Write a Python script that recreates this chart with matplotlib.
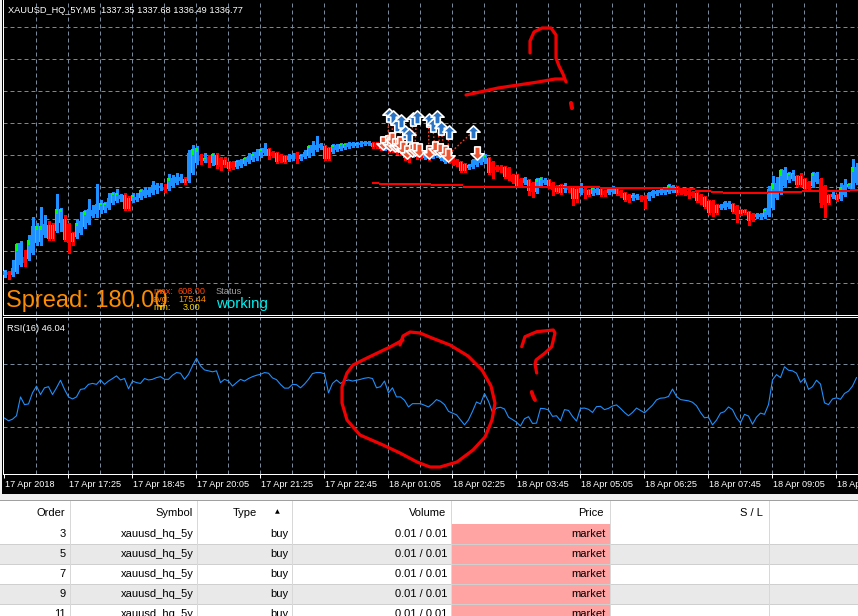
import numpy as np
import matplotlib
matplotlib.use("Agg")
import matplotlib.pyplot as plt
from matplotlib.path import Path
from matplotlib.lines import Line2D
from matplotlib.patches import Rectangle
import matplotlib.transforms as mtransforms

plt.rcParams['font.family'] = ['Liberation Sans', 'DejaVu Sans']

# ---------------- data (XAUUSD M5) ----------------
opens = [
    1332.5, 1332.8, 1332.5, 1332.8, 1333.5, 1334.3, 1334.1, 1334.7, 1335.7, 1335.8,
    1336.5, 1337.5, 1337.5, 1336.9, 1337.7, 1338.1, 1337.6, 1336.7, 1336.3, 1336.7,
    1337.3, 1337.7, 1338.4, 1338.6, 1339.0, 1339.0, 1339.2, 1339.7, 1339.9, 1340.1,
    1340.5, 1340.2, 1339.9, 1340.0, 1340.2, 1340.4, 1340.5, 1340.7, 1341.0, 1341.2,
    1341.3, 1341.1, 1341.4, 1341.7, 1341.9, 1342.1, 1341.9, 1342.7, 1343.7, 1344.4,
    1343.9, 1344.3, 1343.7, 1344.5, 1344.2, 1344.0, 1343.8, 1343.8, 1343.3, 1343.4,
    1343.6, 1343.8, 1344.0, 1344.2, 1344.4, 1344.7, 1345.1, 1344.8, 1344.7, 1344.5,
    1344.4, 1344.0, 1344.1, 1344.7, 1344.1, 1344.3, 1344.4, 1344.7, 1345.0, 1345.2,
    1345.4, 1345.2, 1344.8, 1345.0, 1345.1, 1345.2, 1345.3, 1345.4, 1345.4, 1345.5,
    1345.6, 1345.6, 1345.7, 1345.7, 1345.7, 1345.1, 1345.5, 1345.4, 1345.3, 1345.2,
    1344.8, 1344.8, 1344.4, 1344.7, 1344.8, 1344.2, 1344.5, 1344.3, 1344.4, 1344.1,
    1343.8, 1344.5, 1344.2, 1344.0, 1343.8, 1343.6, 1343.2, 1343.3, 1343.5, 1343.7,
    1343.8, 1344.2, 1343.8, 1343.3, 1343.3, 1343.3, 1343.2, 1342.5, 1342.5, 1342.1,
    1341.7, 1342.0, 1341.7, 1340.8, 1341.4, 1341.7, 1342.0, 1341.7, 1341.4, 1341.5,
    1341.1, 1341.3, 1341.2, 1341.1, 1340.7, 1341.1, 1341.0, 1340.6, 1340.7, 1341.1,
    1340.9, 1340.7, 1340.8, 1341.1, 1340.9, 1340.7, 1340.5, 1340.2, 1340.2, 1340.4,
    1340.4, 1340.1, 1340.4, 1340.6, 1340.7, 1340.7, 1340.8, 1340.9, 1341.3, 1341.1,
    1341.0, 1340.9, 1340.8, 1340.7, 1340.5, 1340.3, 1339.9, 1339.9, 1339.5, 1339.2,
    1339.2, 1339.3, 1339.6, 1339.4, 1339.0, 1339.0, 1338.8, 1338.6, 1338.3, 1338.3,
    1338.3, 1338.5, 1339.2, 1340.2, 1340.7, 1341.4, 1342.0, 1342.1, 1342.4, 1342.4,
    1342.1, 1341.8, 1341.4, 1341.8, 1342.1, 1341.4, 1340.5, 1340.3, 1340.5, 1340.1,
    1340.5, 1341.3, 1341.1, 1341.7]
highs = [
    1333.0, 1332.9, 1334.0, 1335.7, 1335.9, 1335.0, 1336.5, 1338.3, 1337.7, 1339.3,
    1338.5, 1337.9, 1337.7, 1340.6, 1339.2, 1338.5, 1337.7, 1336.8, 1338.1, 1338.8,
    1339.0, 1340.1, 1339.5, 1341.6, 1340.0, 1339.8, 1340.7, 1340.8, 1341.1, 1340.6,
    1340.7, 1340.4, 1340.7, 1340.7, 1341.1, 1341.3, 1341.3, 1341.9, 1341.7, 1341.7,
    1341.6, 1342.6, 1342.5, 1342.7, 1342.6, 1342.3, 1345.0, 1345.5, 1345.4, 1344.6,
    1344.7, 1344.5, 1344.7, 1344.7, 1344.3, 1344.3, 1343.9, 1343.9, 1344.0, 1344.1,
    1344.3, 1344.7, 1344.8, 1345.1, 1345.2, 1345.7, 1345.2, 1344.9, 1344.8, 1344.6,
    1344.5, 1344.6, 1344.7, 1344.8, 1344.6, 1345.0, 1345.5, 1345.9, 1346.4, 1345.7,
    1345.5, 1345.3, 1345.6, 1345.6, 1345.7, 1345.7, 1345.8, 1345.8, 1345.8, 1345.9,
    1345.9, 1345.9, 1345.8, 1345.8, 1345.8, 1345.7, 1345.6, 1345.5, 1345.4, 1345.3,
    1345.0, 1344.9, 1345.1, 1344.8, 1344.9, 1344.6, 1344.6, 1344.9, 1344.9, 1344.8,
    1344.8, 1344.6, 1344.3, 1344.1, 1343.9, 1343.7, 1343.6, 1344.1, 1344.4, 1344.6,
    1344.6, 1344.3, 1343.9, 1343.5, 1343.5, 1343.4, 1343.3, 1342.6, 1342.6, 1342.2,
    1342.3, 1342.1, 1341.8, 1342.2, 1342.3, 1342.2, 1342.1, 1341.8, 1341.5, 1341.6,
    1341.7, 1341.4, 1341.3, 1341.2, 1341.7, 1341.2, 1341.1, 1341.3, 1341.2, 1341.2,
    1341.0, 1341.2, 1341.4, 1341.2, 1341.0, 1340.8, 1340.6, 1340.7, 1340.6, 1340.5,
    1340.5, 1340.8, 1341.0, 1341.0, 1341.1, 1341.3, 1341.6, 1341.5, 1341.4, 1341.2,
    1341.1, 1341.0, 1340.9, 1340.8, 1340.6, 1340.4, 1340.0, 1340.0, 1339.6, 1339.6,
    1339.9, 1339.9, 1339.7, 1339.5, 1339.1, 1339.1, 1338.9, 1338.7, 1338.7, 1338.7,
    1339.2, 1341.4, 1342.4, 1342.3, 1343.1, 1343.3, 1342.8, 1343.0, 1342.5, 1342.7,
    1342.2, 1341.9, 1342.8, 1342.8, 1342.2, 1341.5, 1340.6, 1340.8, 1340.6, 1341.7,
    1342.1, 1341.7, 1344.1, 1343.7]
lows = [
    1332.3, 1332.1, 1332.4, 1332.7, 1333.4, 1333.4, 1334.0, 1334.6, 1335.5, 1335.5,
    1336.3, 1336.0, 1336.0, 1336.8, 1336.9, 1335.9, 1334.7, 1335.5, 1336.2, 1336.6,
    1337.2, 1337.6, 1338.3, 1338.3, 1338.7, 1338.8, 1339.1, 1339.6, 1339.8, 1339.9,
    1339.0, 1339.0, 1339.8, 1339.9, 1340.1, 1340.3, 1340.4, 1340.6, 1340.7, 1341.0,
    1340.8, 1341.0, 1341.3, 1341.6, 1341.8, 1341.6, 1341.8, 1342.6, 1343.6, 1343.6,
    1343.8, 1343.3, 1343.5, 1343.2, 1343.0, 1343.3, 1343.0, 1343.1, 1343.2, 1343.3,
    1343.5, 1343.7, 1343.9, 1344.0, 1344.3, 1344.5, 1344.1, 1344.3, 1343.7, 1343.8,
    1343.7, 1343.9, 1344.0, 1343.7, 1344.0, 1344.2, 1344.3, 1344.6, 1344.9, 1345.1,
    1344.0, 1344.0, 1344.7, 1344.9, 1345.0, 1345.1, 1345.2, 1345.3, 1345.3, 1345.4,
    1345.5, 1345.5, 1345.2, 1345.2, 1345.0, 1345.0, 1344.8, 1344.8, 1344.6, 1344.5,
    1344.0, 1343.8, 1344.3, 1344.1, 1344.2, 1344.1, 1344.0, 1344.2, 1344.3, 1344.0,
    1343.7, 1343.7, 1343.5, 1343.4, 1342.8, 1342.8, 1343.1, 1343.2, 1343.4, 1343.6,
    1343.7, 1342.6, 1342.2, 1342.9, 1342.8, 1342.2, 1342.0, 1341.7, 1341.3, 1341.3,
    1341.6, 1340.5, 1340.3, 1340.7, 1341.3, 1341.6, 1341.2, 1340.5, 1340.7, 1340.6,
    1340.8, 1340.8, 1339.5, 1339.8, 1340.6, 1340.2, 1340.4, 1340.5, 1340.6, 1340.4,
    1340.4, 1340.6, 1340.7, 1340.5, 1340.3, 1339.9, 1339.8, 1340.0, 1340.1, 1339.9,
    1339.2, 1340.0, 1340.3, 1340.5, 1340.6, 1340.6, 1340.7, 1340.8, 1340.6, 1340.6,
    1340.5, 1340.2, 1340.3, 1339.8, 1339.6, 1339.2, 1338.6, 1338.4, 1338.6, 1339.1,
    1339.1, 1339.2, 1338.7, 1337.8, 1338.5, 1338.6, 1337.5, 1337.9, 1338.2, 1338.2,
    1338.2, 1338.4, 1339.1, 1340.1, 1340.6, 1341.3, 1341.8, 1342.0, 1341.4, 1341.4,
    1341.0, 1341.0, 1341.3, 1341.7, 1339.3, 1338.3, 1339.6, 1340.2, 1339.9, 1340.0,
    1340.4, 1341.2, 1341.0, 1341.6]
closes = [
    1332.9, 1332.5, 1333.2, 1335.6, 1335.7, 1333.7, 1336.0, 1337.4, 1337.4, 1337.4,
    1337.6, 1336.1, 1336.1, 1339.1, 1339.1, 1336.0, 1335.7, 1335.8, 1337.7, 1337.9,
    1338.9, 1339.1, 1339.0, 1339.6, 1339.7, 1339.7, 1340.2, 1340.7, 1340.7, 1340.5,
    1339.1, 1339.1, 1340.5, 1340.3, 1341.0, 1341.0, 1341.0, 1341.5, 1341.5, 1341.4,
    1341.0, 1342.2, 1342.2, 1342.3, 1342.3, 1341.7, 1344.7, 1345.1, 1345.2, 1343.9,
    1344.2, 1343.7, 1344.6, 1343.5, 1343.3, 1343.5, 1343.1, 1343.2, 1343.9, 1344.0,
    1344.2, 1344.4, 1344.6, 1344.8, 1345.1, 1345.2, 1344.4, 1344.4, 1343.8, 1343.9,
    1343.8, 1344.4, 1344.4, 1344.1, 1344.5, 1344.8, 1345.4, 1345.5, 1345.5, 1345.6,
    1344.1, 1344.1, 1345.5, 1345.5, 1345.6, 1345.6, 1345.7, 1345.7, 1345.7, 1345.7,
    1345.8, 1345.8, 1345.3, 1345.3, 1345.1, 1345.6, 1345.0, 1344.9, 1344.8, 1344.7,
    1344.2, 1344.3, 1345.0, 1344.3, 1344.3, 1344.5, 1344.1, 1344.8, 1344.8, 1344.7,
    1344.7, 1343.8, 1343.7, 1343.5, 1342.9, 1342.9, 1343.5, 1344.0, 1344.3, 1344.5,
    1344.5, 1342.7, 1342.7, 1343.0, 1343.0, 1342.3, 1342.1, 1341.8, 1341.4, 1341.4,
    1342.2, 1340.9, 1340.8, 1342.1, 1342.2, 1342.0, 1341.3, 1341.0, 1340.8, 1340.7,
    1341.5, 1341.0, 1340.1, 1340.1, 1341.3, 1340.7, 1340.5, 1341.2, 1341.1, 1340.5,
    1340.5, 1341.1, 1341.3, 1340.6, 1340.4, 1340.0, 1340.0, 1340.5, 1340.5, 1340.0,
    1340.0, 1340.7, 1340.9, 1340.9, 1341.0, 1341.2, 1341.5, 1341.4, 1340.7, 1340.7,
    1340.6, 1340.5, 1340.4, 1339.9, 1339.7, 1339.3, 1338.7, 1338.7, 1338.7, 1339.5,
    1339.8, 1339.7, 1338.8, 1338.5, 1338.6, 1338.7, 1337.9, 1338.0, 1338.6, 1338.6,
    1339.1, 1341.1, 1341.7, 1341.7, 1343.0, 1343.0, 1342.7, 1342.7, 1341.5, 1341.5,
    1341.1, 1341.1, 1342.7, 1342.7, 1339.7, 1339.5, 1339.7, 1340.6, 1340.0, 1341.3,
    1341.5, 1341.6, 1343.3, 1343.3]
# bars whose body shows a lime (bar-up) edge under the coloured body
accent = ("1001001011" "0111110110" "1000110110" "1110100000" "0100010110"
          "1011011010" "1010101010" "1000101000" "1110110010" "0010110101"
          "1001010001" "1000111000" "1100010010" "0101101011" "1011001101"
          "0001010100" "0000001010" "0001011010" "0010111000" "1010101111"
          "1010001011" "0110")
rsi = [
    35.6, 33.9, 34.9, 37.1, 49.1, 44.2, 44.6, 51.7, 56.0, 50.6,
    54.9, 55.6, 50.6, 54.9, 59.7, 53.9, 49.1, 47.8, 49.1, 53.9,
    54.3, 57.1, 57.7, 57.1, 59.9, 57.1, 59.2, 60.8, 62.5, 59.9,
    60.8, 54.3, 59.2, 58.2, 57.7, 60.8, 59.9, 60.3, 61.4, 62.0,
    60.3, 60.3, 62.9, 64.6, 64.2, 60.3, 63.5, 68.9, 73.7, 68.9,
    66.3, 65.7, 65.1, 65.7, 58.2, 60.3, 59.2, 56.0, 58.2, 60.3,
    59.2, 60.8, 62.0, 62.9, 63.5, 64.6, 64.2, 61.2, 60.1, 57.1,
    54.7, 54.7, 57.1, 56.9, 54.9, 57.3, 60.3, 64.0, 64.6, 64.6,
    63.8, 51.7, 57.7, 59.9, 57.7, 59.2, 59.9, 59.2, 59.7, 60.3,
    61.0, 61.4, 60.8, 54.9, 55.6, 59.2, 51.7, 54.9, 49.1, 49.1,
    47.0, 42.7, 44.8, 44.8, 44.8, 43.8, 42.7, 44.8, 47.4, 46.3,
    44.2, 39.9, 38.8, 37.7, 34.5, 31.3, 34.5, 39.9, 45.9, 44.6,
    51.3, 46.3, 39.2, 42.0, 42.5, 41.4, 36.2, 34.7, 33.0, 30.6,
    35.2, 36.5, 32.2, 32.4, 41.8, 41.6, 40.8, 36.7, 37.1, 33.9,
    41.0, 40.5, 36.7, 33.7, 41.8, 42.0, 41.2, 39.2, 42.9, 43.1,
    41.0, 41.8, 43.3, 44.0, 41.8, 39.2, 37.1, 39.2, 42.0, 40.5,
    39.0, 41.4, 43.8, 47.2, 48.3, 48.5, 49.4, 54.1, 49.4, 47.4,
    47.0, 46.6, 45.7, 43.5, 39.2, 35.8, 36.2, 31.3, 34.3, 38.8,
    39.7, 42.7, 41.0, 35.8, 32.6, 38.0, 36.9, 31.7, 36.2, 38.8,
    38.0, 44.2, 59.9, 63.3, 61.4, 68.3, 66.1, 65.7, 64.2, 58.4,
    61.0, 53.9, 55.6, 59.7, 57.3, 45.3, 44.2, 47.8, 48.5, 47.6,
    51.3, 52.8, 56.0, 61.4]

# step level line (bar index where each level starts, last = end)
level_start = [91.9, 93.6, 106.6, 114.6, 136.4, 148.9, 164.6, 172.6, 176.6,
               179.6, 184.6, 190.9, 199.4, 205.1, 211.4, 214.0]
level_value = [1341.67, 1341.57, 1341.45, 1341.33, 1341.27, 1341.17, 1341.05,
               1340.90, 1340.77, 1340.73, 1340.67, 1340.77, 1340.90, 1340.93, 1341.00]

# trade arrows
buy_idx = [96, 97, 98, 99, 100, 101, 102, 103, 106, 107, 108, 109, 111, 117]
buy_price = [1348.5, 1348.3, 1347.5, 1347.9, 1346.8, 1346.5, 1348.1, 1348.3,
             1348.0, 1347.5, 1348.3, 1347.2, 1346.8, 1346.8]
close_idx = [94.6, 95.9, 96.4, 96.9, 97.6, 98.4, 98.9, 99.6, 100.6, 101.9,
             102.6, 103.6, 106.1, 107.6, 108.9, 110.1, 110.9, 118.1]
close_price = [1345.7, 1345.8, 1345.6, 1346.1, 1345.5, 1345.5, 1345.7, 1345.2,
               1344.8, 1345.0, 1345.1, 1345.0, 1344.8, 1345.2, 1345.0, 1344.8,
               1344.5, 1344.7]
trade_links = [(0, 1), (1, 3), (2, 4), (3, 6), (4, 7), (5, 8), (6, 9), (7, 10),
               (8, 12), (9, 13), (10, 14), (11, 15), (12, 16), (13, 16)]

time_labels = ['17 Apr 2018', '17 Apr 17:25', '17 Apr 18:45', '17 Apr 20:05',
               '17 Apr 21:25', '17 Apr 22:45', '18 Apr 01:05', '18 Apr 02:25',
               '18 Apr 03:45', '18 Apr 05:05', '18 Apr 06:25', '18 Apr 07:45',
               '18 Apr 09:05', '18 Apr 10:25']
label_every = 16

title_text = 'XAUUSD_HQ_5Y,M5  1337.35 1337.68 1336.49 1336.77'
rsi_text = 'RSI(16) 46.04'

table_columns = ['Order', 'Symbol', 'Type', 'Volume', 'Price', 'S / L']
table_orders = ['3', '5', '7', '9', '11']
table_symbol = 'xauusd_hq_5y'
table_type = 'buy'
table_volume = '0.01 / 0.01'
table_price = 'market'

# ---------------- styling ----------------
W, H = 858, 616
BLUE = '#1E90FF'
RED = '#FF0000'
LIME = '#00FF00'
GRID = '#778899'
PX = 0.72  # one pixel in points

fig = plt.figure(figsize=(W / 100, H / 100), dpi=100)
fig.patch.set_facecolor('#F0F0F0')


def box(l, t, r, b):
    return [l / W, 1 - b / H, (r - l) / W, (b - t) / H]


def fx(x):
    return x / W


def fy(y):
    return 1 - y / H


bg = fig.add_axes(box(2, 0, W, 494))
bg.set_facecolor('black')
bg.set_xticks([]); bg.set_yticks([])
for s in bg.spines.values():
    s.set_visible(False)

n = len(closes)
xs = np.arange(n)
XLIM = ((3 - 4.5) / 4, (W - 4.5) / 4)
vgrid = np.arange(8, n, 8) - 0.125

# ---------------- main price panel ----------------
ax = fig.add_axes(box(3, 0, W, 315))
ax.set_facecolor('black')
ax.set_xlim(*XLIM)
ax.set_ylim(1328.5, 1360.0)
ax.set_xticks([]); ax.set_yticks([])
for k, s in ax.spines.items():
    s.set_visible(k in ('left', 'bottom'))
    s.set_color('white'); s.set_linewidth(PX)

hgrid = [1357.3 - 3.2 * k for k in range(9)]
ax.hlines(hgrid, XLIM[0], XLIM[1], colors=GRID, lw=PX, linestyles=(0, (4, 3)), zorder=1)
ax.vlines(vgrid, 1328.5, 1360, colors=GRID, lw=PX, linestyles=(0, (4, 3)), zorder=1)

o = np.array(opens); c = np.array(closes); h = np.array(highs); l = np.array(lows)
up = c >= o
body_lo = np.minimum(o, c)
body_h = np.maximum(np.abs(c - o), 0.12)
col = np.where(up, BLUE, RED)
acc = np.array([ch == '1' for ch in accent[:n]])

ax.vlines(xs, l, h, colors=col, lw=PX * 1.05, zorder=2, antialiased=False)
BW = 0.8
m = ~acc
ax.bar(xs[m], body_h[m], BW, bottom=body_lo[m], color=col[m], lw=0, zorder=3, antialiased=False)
ax.bar(xs[acc], body_h[acc], BW, bottom=body_lo[acc], color=LIME, lw=0, zorder=3, antialiased=False)
ma = acc & up
ax.bar(xs[ma] + 0.15, body_h[ma] * 0.75, 0.5, bottom=body_lo[ma], color=BLUE, lw=0,
       zorder=3.1, antialiased=False)
mr = acc & ~up
ax.bar(xs[mr], body_h[mr], 0.25, bottom=body_lo[mr], color=RED, lw=0, zorder=3.1,
       antialiased=False)

# level line
ax.hlines(level_value, level_start[:-1], level_start[1:], colors=RED, lw=2 * PX, zorder=4)

# trade links and arrows
for b, cc in trade_links:
    ax.plot([buy_idx[b], close_idx[cc]], [buy_price[b], close_price[cc]],
            color='#FF3A1A', lw=PX * 1.4, ls=(0, (1.2, 1.5)), zorder=5)
up_verts = [(0, 1), (1, 0.05), (0.42, 0.05), (0.42, -1), (-0.42, -1), (-0.42, 0.05), (-1, 0.05), (0, 1)]
codes = [Path.MOVETO] + [Path.LINETO] * 6 + [Path.CLOSEPOLY]
up_marker = Path(up_verts, codes)
down_marker = Path([(x, -y) for x, y in up_verts], codes)
ax.plot(close_idx, close_price, ls='none', marker=down_marker, ms=9.5,
        mfc='#EE5533', mec='white', mew=1.2, zorder=6)
ax.plot(buy_idx, buy_price, ls='none', marker=up_marker, ms=9.5,
        mfc='#2A74C8', mec='white', mew=1.2, zorder=7)

# ---------------- RSI panel ----------------
ar = fig.add_axes(box(3, 317, W, 474))
ar.set_facecolor('black')
ar.set_xlim(*XLIM)
ar.set_ylim(0, 100)
ar.set_yticks([])
for k, s in ar.spines.items():
    s.set_visible(k in ('left', 'bottom', 'top'))
    s.set_color('white'); s.set_linewidth(PX)
ar.hlines([30, 70], XLIM[0], XLIM[1], colors=GRID, lw=PX, linestyles=(0, (4, 3)), zorder=1)
ar.vlines(vgrid, 0, 100, colors=GRID, lw=PX, linestyles=(0, (4, 3)), zorder=1)
ar.plot(xs, rsi[:n], color=BLUE, lw=PX * 1.1, zorder=3)

tick_pos = np.arange(0, n, label_every) - 0.125
ar.set_xticks(tick_pos)
ar.set_xticklabels([])
ar.tick_params(axis='x', direction='out', length=4 * PX, width=PX, color='white')
tr = mtransforms.blended_transform_factory(ar.transData, ar.transAxes)
for p, lab in zip(tick_pos, time_labels):
    ar.text(p + 0.3, -0.081, lab, transform=tr, color='white', fontsize=6.6,
            ha='left', va='baseline', clip_on=False)

# ---------------- panel texts ----------------
fig.text(fx(8), fy(12.8), title_text, color='white', fontsize=6.7, va='baseline')
fig.text(fx(7), fy(331), rsi_text, color='white', fontsize=6.7, va='baseline')
fig.text(fx(6), fy(306.5), 'Spread: 180.00', color='#FF8C00', fontsize=17, va='baseline')
fig.text(fx(153), fy(294), 'max:', color='#FF4500', fontsize=6.6, va='baseline')
fig.text(fx(178), fy(294), '608.00', color='#FF4500', fontsize=6.6, va='baseline')
fig.text(fx(153), fy(302), 'avg:', color='#FF8C00', fontsize=6.6, va='baseline')
fig.text(fx(178), fy(302), '175.44', color='#FF8C00', fontsize=6.6, va='baseline')
fig.text(fx(153), fy(310), 'min:', color='#FFD700', fontsize=6.6, va='baseline')
fig.text(fx(183), fy(310), '3.00', color='#FFD700', fontsize=6.6, va='baseline')
fig.text(fx(216), fy(294), 'Status', color='#A0A0A0', fontsize=6.6, va='baseline')
fig.text(fx(216), fy(308), 'working', color='#00F0F0', fontsize=10.8, va='baseline')

# ---------------- hand-drawn red marks ----------------
def scribble(pts, lw=2.3):
    px = np.array(pts, dtype=float)
    fig.add_artist(Line2D(fx(px[:, 0]), fy(px[:, 1]), transform=fig.transFigure,
                          color='#F00000', lw=lw, solid_capstyle='round',
                          solid_joinstyle='round', zorder=20))

scribble([(466, 95), (480, 92), (498, 88), (518, 85), (538, 82), (555, 79), (563, 79)])
scribble([(530, 53), (530, 41), (534, 32), (542, 28), (551, 28), (556, 35), (556, 48),
          (556, 58), (559, 66), (563, 74), (566, 82)])
scribble([(571, 103), (572, 108)], lw=3)
scribble([(400, 345), (403, 336), (410, 332), (420, 333), (432, 338), (450, 345), (468, 356),
          (482, 370), (491, 386), (495, 403), (492, 420), (485, 437), (473, 450), (457, 462),
          (440, 467), (430, 467), (417, 462), (400, 453), (383, 445), (360, 435), (347, 420),
          (342, 403), (342, 387), (347, 373), (353, 365), (367, 358), (390, 347), (403, 340)])
scribble([(521.7, 346.7), (525, 336.7), (536.7, 331.7), (553.3, 330), (555, 333),
          (551.7, 346.7), (545, 353), (536, 360), (535, 364), (536.7, 373)])
scribble([(531.7, 392), (533, 396), (535, 400)], lw=2.8)

# ---------------- order table ----------------
tb = fig.add_axes(box(0, 494, W, H))
tb.set_xlim(0, W); tb.set_ylim(H, 494)
tb.axis('off')
tb.add_patch(Rectangle((0, 494), W, 6, color='#F0F0F0', lw=0))
tb.add_patch(Rectangle((0, 500.5), W, 24, color='white', lw=0))
row_tops = [524, 544, 564, 584, 604]
for r, t in enumerate(row_tops):
    tb.add_patch(Rectangle((0, t), W, 20, color='white' if r % 2 == 0 else '#E9E9E9', lw=0))
    tb.add_patch(Rectangle((451.5, t), 158.5, 20, color='#FFA3A3', lw=0))
    if r > 0:
        tb.plot([0, W], [t, t], color='#CFCFCF', lw=PX)
tb.plot([0, W], [500, 500], color='#A0A0A0', lw=PX)
col_edges = [70, 197, 292, 451, 610, 769]
for xe in col_edges:
    tb.plot([xe, xe], [500.5, H], color='#D8D8D8', lw=PX)

hdr_right = {'Order': 65, 'Symbol': 193, 'Volume': 446, 'Price': 604, 'S / L': 763}
for name in table_columns:
    if name == 'Type':
        tb.text(233, 513, name, fontsize=8, ha='left', va='center', color='black')
        tb.text(277, 511.5, '\u25B2', fontsize=4.5, ha='center', va='center', color='black',
                family=['DejaVu Sans'])
    else:
        tb.text(hdr_right[name], 513, name, fontsize=8, ha='right', va='center', color='black')
for r, t in enumerate(row_tops):
    yc = t + 10
    tb.text(66, yc, table_orders[r], fontsize=8, ha='right', va='center')
    tb.text(194, yc, table_symbol, fontsize=8, ha='right', va='center')
    tb.text(288, yc, table_type, fontsize=8, ha='right', va='center')
    tb.text(447, yc, table_volume, fontsize=8, ha='right', va='center')
    tb.text(606, yc, table_price, fontsize=8, ha='right', va='center')

fig.savefig('out.png', dpi=100, facecolor=fig.get_facecolor())
